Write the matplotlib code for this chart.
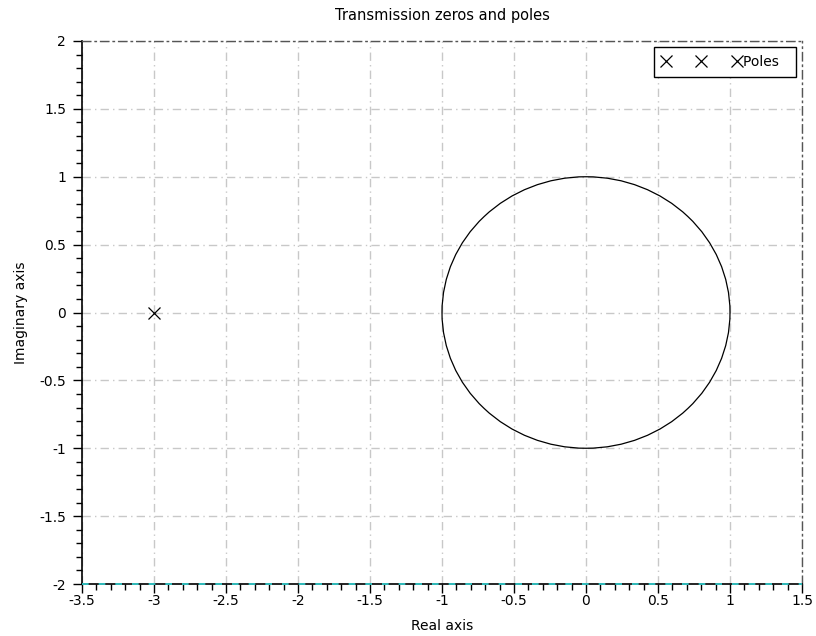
import matplotlib
matplotlib.use("Agg")
import matplotlib.pyplot as plt
from matplotlib.patches import Circle
from matplotlib.ticker import MultipleLocator

# data
pole_re = [-3.0]
pole_im = [0.0]
circle_center = (0.0, 0.0)
circle_radius = 1.0
x_limits = (-3.5, 1.5)
y_limits = (-2.0, 2.0)
x_ticks = [-3.5, -3, -2.5, -2, -1.5, -1, -0.5, 0, 0.5, 1, 1.5]
y_ticks = [-2, -1.5, -1, -0.5, 0, 0.5, 1, 1.5, 2]

def fmt(v):
    return "%g" % v

plt.rcParams['font.family'] = ['DejaVu Sans']
fig = plt.figure(figsize=(8.16, 6.36), dpi=100)
ax = fig.add_axes([82/816, 1-584/636, 720/816, 543/636])
ax.set_xlim(*x_limits)
ax.set_ylim(*y_limits)

# grid
grid_kw = dict(color='#c8c8c8', linestyle=(0, (6, 3, 1, 3)), linewidth=1.0, zorder=0)
for xv in x_ticks:
    ax.axvline(xv, **grid_kw)
for yv in y_ticks:
    ax.axhline(yv, **grid_kw)
ax.axhline(y_limits[0], color='#33d6d6', linestyle=(0, (4, 6)), linewidth=1.2,
           zorder=3, clip_on=False)

ax.add_patch(Circle(circle_center, circle_radius, fill=False, edgecolor='black', linewidth=0.9, zorder=3))
ax.plot(pole_re, pole_im, linestyle='none', marker='x', markersize=9, markeredgewidth=0.9,
        color='black', label='Poles  ', zorder=4)

ax.set_xticks(x_ticks)
ax.set_yticks(y_ticks)
ax.set_xticklabels([fmt(v) for v in x_ticks])
ax.set_yticklabels([fmt(v) for v in y_ticks])
ax.xaxis.set_minor_locator(MultipleLocator(0.1))
ax.yaxis.set_minor_locator(MultipleLocator(0.1))
ax.tick_params(axis='both', which='major', direction='out', length=6.5, width=1, labelsize=10, colors='black')
ax.tick_params(axis='both', which='minor', direction='out', length=4.3, width=1)
ax.tick_params(axis='x', which='major', pad=0.5)
ax.tick_params(axis='y', which='major', pad=5)

for s in ['left', 'bottom']:
    ax.spines[s].set_linewidth(1.2)
    ax.spines[s].set_color('black')
for s in ['top', 'right']:
    ax.spines[s].set_color('#555555')
    ax.spines[s].set_linestyle((0, (6, 3, 1, 3)))
    ax.spines[s].set_linewidth(1.0)

ax.set_title('Transmission zeros and poles', fontsize=10.5, pad=15)
ax.set_xlabel('Real axis', fontsize=10, labelpad=8)
ax.set_ylabel('Imaginary axis', fontsize=10, labelpad=8)

leg = ax.legend(loc='upper right', numpoints=3, handlelength=5.7, handletextpad=0.2,
                fontsize=10, frameon=True, fancybox=False, borderaxespad=0.45,
                borderpad=0.55, edgecolor='black', framealpha=1)
leg.get_frame().set_linewidth(1.0)

fig.savefig('out.png', dpi=100)
